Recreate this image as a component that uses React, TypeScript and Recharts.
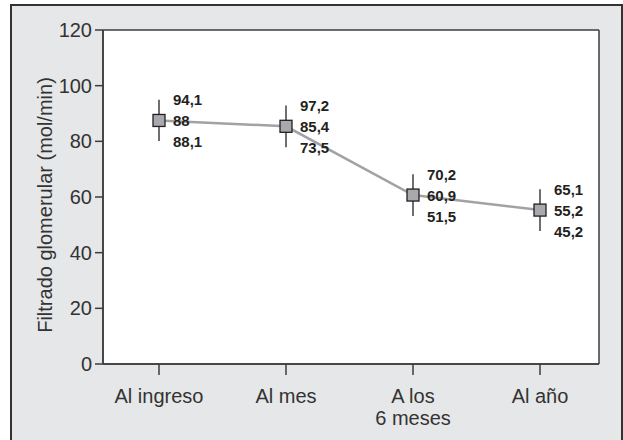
import React from 'react';
import { LineChart, Line, XAxis, YAxis, ErrorBar, LabelList, CartesianGrid } from 'recharts';

const categories = ['Al ingreso', 'Al mes', 'A los\n6 meses', 'Al año'];
const means = [87.5, 85.4, 60.7, 55.3];
const errs = [7.4, 7.5, 7.5, 7.5];
const upperLabels = ['94,1', '97,2', '70,2', '65,1'];
const meanLabels = ['88', '85,4', '60,9', '55,2'];
const lowerLabels = ['88,1', '73,5', '51,5', '45,2'];
const yTicks = [0, 20, 40, 60, 80, 100, 120];

const data = categories.map((name, i) => ({ name, mean: means[i], err: errs[i] }));

const FONT = '"Liberation Sans", Arial, Helvetica, sans-serif';
const AXIS = '#3c3c3c';

const XTick = ({ x, y, payload }: any) => {
  const lines = String(payload.value).split('\n');
  return (
    <text x={x} y={y} textAnchor="middle" fontFamily={FONT} fontSize={20} fill="#333">
      {lines.map((l, i) => (
        <tspan key={i} x={x} dy={i === 0 ? 26 : 22}>{l}</tspan>
      ))}
    </text>
  );
};

const SquareDot = ({ cx, cy, index }: any) => (
  <rect key={`sq-${index}`} x={cx - 6} y={cy - 6} width={12} height={12} fill="#a7a9ac" stroke="#231f20" strokeWidth={1.3} />
);

const ValueLabels = ({ x, y, index }: any) => (
  <g fontFamily={FONT} fontSize={15} fontWeight="bold" fill="#231f20">
    <text x={x + 14} y={y - 21} dominantBaseline="central">{upperLabels[index]}</text>
    <text x={x + 14} y={y} dominantBaseline="central">{meanLabels[index]}</text>
    <text x={x + 14} y={y + 21} dominantBaseline="central">{lowerLabels[index]}</text>
  </g>
);

// frame lines on the edges of the plot area
const frameRows = ({ offset }: any) => [offset.top, offset.top + offset.height];
const frameCols = ({ offset }: any) => [offset.left, offset.left + offset.width];

export default function App() {
  return (
    <div style={{ position: 'absolute', left: 0, top: 0, width: 623, height: 440, overflow: 'hidden' }}>
      <div
        style={{
          position: 'absolute',
          left: 10,
          top: 4,
          width: 613,
          height: 450,
          background: '#e6e7e8',
          border: '2px solid #333',
          boxSizing: 'border-box',
        }}
      />
      <div style={{ position: 'absolute', left: 0, top: 0 }}>
        <LineChart width={623} height={440} data={data} margin={{ top: 30, right: 24, bottom: 26, left: 43 }}>
          <CartesianGrid
            fill="#ffffff"
            stroke={AXIS}
            strokeWidth={1.5}
            horizontalCoordinatesGenerator={frameRows}
            verticalCoordinatesGenerator={frameCols}
          />
          <XAxis
            dataKey="name"
            height={50}
            padding={{ left: 56, right: 59 }}
            tickSize={11}
            tickLine={{ stroke: AXIS, strokeWidth: 1.5 }}
            axisLine={{ stroke: AXIS, strokeWidth: 1.5 }}
            tick={<XTick />}
            interval={0}
          />
          <YAxis
            width={60}
            domain={[0, 120]}
            ticks={yTicks}
            tickSize={8}
            tickMargin={3}
            tickLine={{ stroke: AXIS, strokeWidth: 1.5 }}
            axisLine={{ stroke: AXIS, strokeWidth: 1.5 }}
            tick={{ fontFamily: FONT, fontSize: 20, fill: '#333' }}
            label={{
              value: 'Filtrado glomerular (mol/min)',
              angle: -90,
              position: 'center',
              dx: -28,
              dy: 8,
              style: { fontFamily: FONT, fontSize: 20, fill: '#333', textAnchor: 'middle' },
            }}
          />
          <Line
            dataKey="mean"
            stroke="#a0a2a5"
            strokeWidth={2.5}
            dot={SquareDot}
            activeDot={false}
            isAnimationActive={false}
          >
            <ErrorBar dataKey="err" direction="y" width={0} stroke="#231f20" strokeWidth={1.3} isAnimationActive={false} />
            <LabelList dataKey="mean" content={ValueLabels} />
          </Line>
        </LineChart>
      </div>
    </div>
  );
}
